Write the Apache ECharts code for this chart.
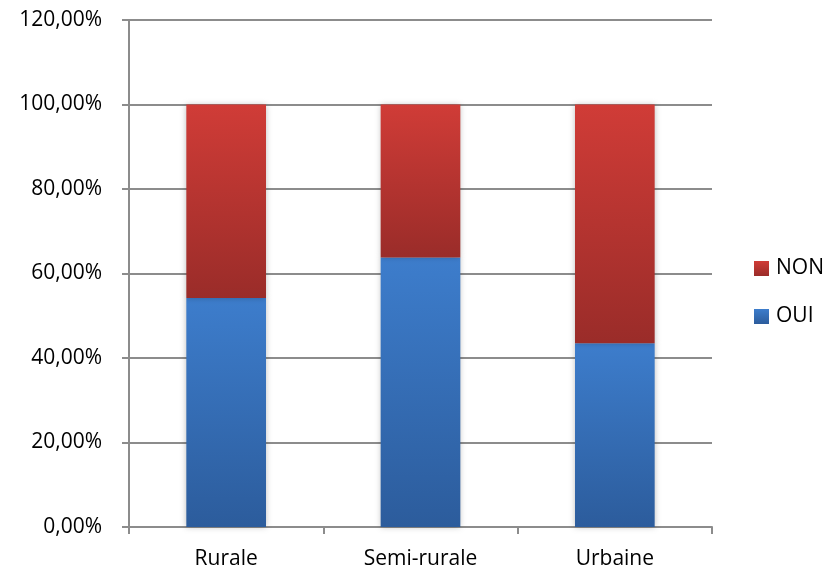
<!DOCTYPE html>
<html>
<head>
<meta charset="utf-8">
<script src="https://cdn.jsdelivr.net/npm/echarts@6/dist/echarts.min.js"></script>
<style>
  html, body { margin: 0; padding: 0; background: #fff; }
  #chart { width: 828px; height: 571px; }
</style>
</head>
<body>
<div id="chart"></div>
<script>
// Catégories et parts (en fraction)
const categories = ['Rurale', 'Semi-rurale', 'Urbaine'];
const oui = [0.542, 0.638, 0.435];
const non = [0.458, 0.362, 0.565];
const yTicks = [0, 0.2, 0.4, 0.6, 0.8, 1.0, 1.2];

const font = '"Open Sans", "Liberation Sans", sans-serif';
const fontSize = 21;

function vGrad(top, bottom) {
  return new echarts.graphic.LinearGradient(0, 0, 0, 1, [
    { offset: 0, color: top },
    { offset: 1, color: bottom }
  ]);
}

const chart = echarts.init(document.getElementById('chart'), null, { renderer: 'canvas' });

chart.setOption({
  animation: false,
  backgroundColor: '#ffffff',
  grid: { left: 129, right: 116, top: 20, bottom: 44, containLabel: false },
  legend: {
    orient: 'vertical',
    left: 754,
    top: 258,
    padding: 0,
    itemWidth: 15,
    itemHeight: 15,
    itemGap: 27,
    icon: 'rect',
    textStyle: { fontFamily: font, fontSize: fontSize, color: '#000', padding: [0, 0, 0, 2] },
    data: [
      { name: 'NON', itemStyle: { color: vGrad('#d03c37', '#9a2c29') } },
      { name: 'OUI', itemStyle: { color: vGrad('#3d7dcc', '#2c5c9c') } }
    ]
  },
  xAxis: {
    type: 'category',
    data: categories,
    axisLine: { lineStyle: { color: '#8c8c8c', width: 2 } },
    axisTick: { show: true, length: 7, alignWithLabel: false, lineStyle: { color: '#8c8c8c', width: 2 } },
    axisLabel: { fontFamily: font, fontSize: fontSize, color: '#000', margin: 22 }
  },
  yAxis: {
    type: 'value',
    min: yTicks[0],
    max: yTicks[yTicks.length - 1],
    interval: 0.2,
    axisLine: { show: true, lineStyle: { color: '#8c8c8c', width: 2 } },
    axisTick: { show: true, length: 7, lineStyle: { color: '#8c8c8c', width: 2 } },
    splitLine: { lineStyle: { color: '#8c8c8c', width: 2 } },
    axisLabel: {
      fontFamily: font, fontSize: fontSize, color: '#000', margin: 27,
      formatter: v => (v * 100).toFixed(2).replace('.', ',') + '%'
    }
  },
  series: [
    {
      name: 'OUI',
      type: 'bar',
      stack: 'total',
      barWidth: '41%',
      data: oui,
      itemStyle: {
        color: vGrad('#3d7dcc', '#2c5c9c'),
        shadowColor: 'rgba(0,0,0,0.25)',
        shadowBlur: 6
      }
    },
    {
      name: 'NON',
      type: 'bar',
      stack: 'total',
      barWidth: '41%',
      data: non,
      itemStyle: {
        color: vGrad('#d03c37', '#9a2c29'),
        shadowColor: 'rgba(0,0,0,0.25)',
        shadowBlur: 6
      }
    }
  ]
});
</script>
</body>
</html>
